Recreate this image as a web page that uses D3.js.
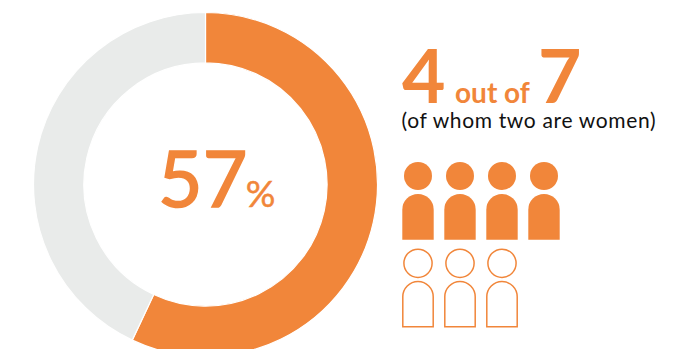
<!DOCTYPE html>
<html>
<head>
<meta charset="utf-8">
<script src="https://cdn.jsdelivr.net/npm/d3@7"></script>
<style>
  html, body { margin: 0; padding: 0; background: #fff; }
  svg { display: block; }
  text { font-family: Lato, "Open Sans", sans-serif; }
</style>
</head>
<body>
<svg id="chart" width="693" height="349"></svg>
<script>
const shareLabels = ["Yes", "No"];
const shareValues = [57, 43];
const shareColors = ["#f1863a", "#e9ebea"];
const peopleTotal = 7;
const peopleCounted = 4;
const rowLengths = [peopleCounted, peopleTotal - peopleCounted];

const svg = d3.select("#chart");
const orange = shareColors[0];

// Donut
const pie = d3.pie().sort(null).value(d => d);
const arc = d3.arc().innerRadius(121.6).outerRadius(172);
svg.append("g")
  .attr("transform", "translate(205.5,184.5)")
  .selectAll("path")
  .data(pie(shareValues))
  .join("path")
  .attr("d", arc)
  .attr("fill", (d, i) => shareColors[i])
  .attr("stroke", "#fff")
  .attr("stroke-width", 1.2)
  .append("title")
  .text((d, i) => shareLabels[i]);

// Central percentage, thickened slightly with a same-colour outline
const centre = svg.append("text")
  .attr("x", 158)
  .attr("y", 207)
  .attr("fill", orange)
  .attr("font-weight", 400);
centre.append("tspan")
  .attr("font-size", 77)
  .attr("stroke", orange)
  .attr("stroke-width", 1.6)
  .text(shareValues[0]);
centre.append("tspan")
  .attr("font-size", 37)
  .attr("stroke", orange)
  .attr("stroke-width", 0.5)
  .attr("dx", -1.5)
  .text("%");

// Headline
const head = svg.append("text")
  .attr("x", 402)
  .attr("y", 102.5)
  .attr("fill", orange)
  .attr("font-weight", 700);
head.append("tspan").attr("font-size", 75).text(peopleCounted);
head.append("tspan").attr("font-size", 28).attr("dx", 9.5).text("out of");
head.append("tspan").attr("font-size", 75).attr("dx", 8).text(peopleTotal);

svg.append("text")
  .attr("x", 401.5)
  .attr("y", 127.5)
  .attr("font-size", 21)
  .attr("letter-spacing", 0.65)
  .attr("font-weight", 400)
  .attr("fill", "#111")
  .text("(of whom two are women)");

// Pictogram rows: solid for the counted people, outlined for the rest
const x = d3.scalePoint().domain(d3.range(peopleCounted)).range([418, 544]);
const rowGeom = [
  { headY: 176, headR: 14, top: 194, bottom: 239.7, half: 15.7, solid: true },
  { headY: 263.3, headR: 14.1, top: 281.6, bottom: 326.8, half: 15.2, solid: false }
];

function bodyPath(g) {
  const p = d3.path();
  p.moveTo(-g.half, g.bottom);
  p.lineTo(-g.half, g.top + g.half);
  p.arc(0, g.top + g.half, g.half, Math.PI, 0);
  p.lineTo(g.half, g.bottom);
  p.closePath();
  return p.toString();
}

rowGeom.forEach((g, r) => {
  const people = svg.append("g")
    .selectAll("g")
    .data(d3.range(rowLengths[r]))
    .join("g")
    .attr("transform", d => `translate(${x(d)},0)`)
    .attr("fill", g.solid ? orange : "#fff")
    .attr("stroke", g.solid ? "none" : orange)
    .attr("stroke-width", 1.5);
  people.append("circle").attr("cy", g.headY).attr("r", g.headR);
  people.append("path").attr("d", bodyPath(g));
});
</script>
</body>
</html>
